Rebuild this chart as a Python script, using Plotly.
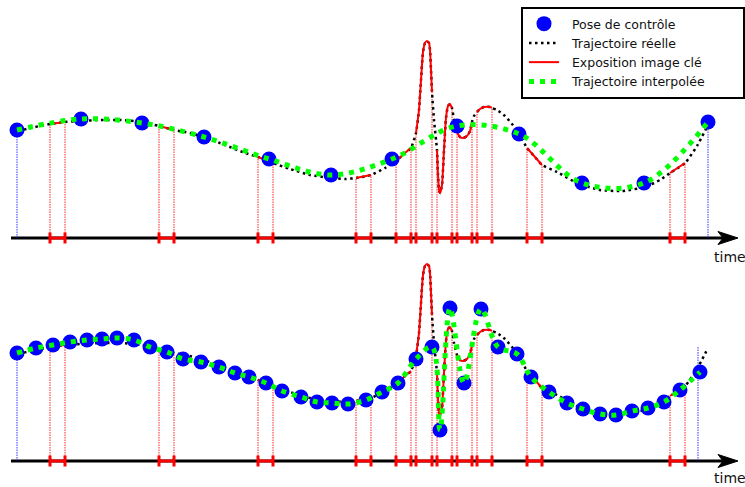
import plotly.graph_objects as go

W, H = 745, 487

# ---------------- data (time in px-like units, position grows downward) ----------------
real_t = [18, 35, 50, 65, 80, 100, 120, 142, 159, 174, 190, 204, 225, 245, 258, 273, 290, 310,
          331, 345, 356, 371, 385, 396, 405, 411, 416, 419, 421, 423, 425, 427, 429, 430, 431,
          432, 434, 437, 438, 439, 440, 442, 444, 446, 448, 450, 452, 454, 457, 460, 463, 467,
          470, 472, 474, 477, 480, 484, 490, 492, 497, 505, 512, 519, 527, 535, 542, 557, 577,
          600, 622, 645, 660, 670, 685, 697, 708]
real_y = [131, 127, 124, 122, 121, 120, 120, 122, 126, 130, 133, 137, 145, 153, 157, 163, 169, 175,
          178, 179, 178, 175, 168, 161, 153, 148, 133, 110, 80, 52, 43, 41, 43, 50, 70,
          92, 120, 150, 175, 190, 193, 185, 150, 118, 106, 104, 108, 120, 132, 137, 138, 136,
          131, 122, 116, 112, 109, 107, 107, 108, 110, 116, 124, 133, 148, 157, 165, 172, 183,
          190, 191, 187, 180, 173, 163, 146, 125]

exposure_start = [50, 159, 258, 356, 396, 416, 437, 457, 477, 527, 670]
exposure_end = [65, 174, 273, 371, 411, 432, 452, 472, 492, 542, 685]

top_pose_t = [17, 81, 142, 204, 269, 331, 392, 457, 519, 582, 644, 708]
top_pose_y = [130, 119, 123, 137, 159, 175, 159, 126, 134, 183, 183, 122]

bot_pose_t = [17, 36, 53, 70, 87, 102, 117, 134, 150, 167, 183, 201, 219, 235, 249, 266, 282,
              301, 317, 332, 348, 366, 382, 398, 416, 432, 440, 450, 464, 481, 498, 517, 531,
              549, 567, 583, 600, 616, 632, 648, 664, 680, 700]
bot_pose_y = [130, 125, 122, 119, 117, 116, 115, 117, 124, 129, 136, 139, 144, 150, 154, 160, 168,
              174, 179, 180, 181, 177, 169, 160, 136, 124, 207, 85, 160, 86, 124, 131, 154,
              169, 180, 186, 191, 192, 188, 185, 179, 167, 149]

top_bounds_t = [17, 708]
top_bounds_y = [130, 122]
bot_bounds_t = [17, 698]
bot_bounds_y = [130, 124]

legend_names = ["Pose de contrôle", "Trajectoire réelle", "Exposition image clé", "Trajectoire interpolée"]

# ---------------- styling constants ----------------
AXIS_Y = 238
TICK_H = 5.5
FONT = "DejaVu Sans"
BLUE = "#0000ff"
RED = "#ff0000"
GREEN = "#00ff00"
PAD = "\u00a0\u00a0"

fig = go.Figure()


def y_at(t):
    return real_y[real_t.index(t)]


def add_panel(yref, pose_t, pose_y, bounds_t, bounds_y, show_legend):
    # red dotted verticals from time axis to the trajectory
    vx, vy = [], []
    for a, b in zip(exposure_start, exposure_end):
        for t in (a, b):
            vx += [t, t, None]
            vy += [AXIS_Y, y_at(t), None]
    fig.add_trace(go.Scatter(x=vx, y=vy, mode="lines", yaxis=yref, showlegend=False,
                             line=dict(color="rgba(255,0,0,0.85)", width=1, dash="1.5px,1px"),
                             hoverinfo="skip"))
    # blue dotted verticals (first / last control pose)
    bx, by = [], []
    for t, yv in zip(bounds_t, bounds_y):
        bx += [t, t, None]
        by += [AXIS_Y, yv, None]
    fig.add_trace(go.Scatter(x=bx, y=by, mode="lines", yaxis=yref, showlegend=False,
                             line=dict(color="rgba(0,0,255,0.8)", width=1, dash="1.5px,1px"),
                             hoverinfo="skip"))
    # real trajectory
    fig.add_trace(go.Scatter(x=real_t, y=real_y, mode="lines", yaxis=yref,
                             name=PAD + legend_names[1], legendrank=2, showlegend=show_legend,
                             line=dict(color="black", width=2.5, dash="2.5px,3.5px",
                                       shape="spline", smoothing=0.5),
                             hoverinfo="skip"))
    # exposure segments on trajectory
    ex, ey = [], []
    for a, b in zip(exposure_start, exposure_end):
        for t, yv in zip(real_t, real_y):
            if a <= t <= b:
                ex.append(t)
                ey.append(yv)
        ex.append(None)
        ey.append(None)
    fig.add_trace(go.Scatter(x=ex, y=ey, mode="lines", yaxis=yref,
                             name=PAD + legend_names[2], legendrank=3, showlegend=show_legend,
                             line=dict(color=RED, width=2, shape="spline", smoothing=0.5),
                             hoverinfo="skip"))
    # exposure intervals on the time axis
    ix, iy = [], []
    for a, b in zip(exposure_start, exposure_end):
        ix += [a, b, None, a, a, None, b, b, None]
        iy += [AXIS_Y, AXIS_Y, None, AXIS_Y - TICK_H, AXIS_Y + TICK_H, None,
               AXIS_Y - TICK_H, AXIS_Y + TICK_H, None]
    fig.add_trace(go.Scatter(x=ix, y=iy, mode="lines", yaxis=yref, showlegend=False,
                             line=dict(color=RED, width=3), hoverinfo="skip"))
    # control poses
    fig.add_trace(go.Scatter(x=pose_t, y=pose_y, mode="markers", yaxis=yref,
                             name=PAD + legend_names[0], legendrank=1, showlegend=show_legend,
                             marker=dict(color=BLUE, size=15, line=dict(width=0)),
                             hoverinfo="skip"))
    # interpolated trajectory
    fig.add_trace(go.Scatter(x=pose_t, y=pose_y, mode="lines", yaxis=yref,
                             name=PAD + legend_names[3], legendrank=4, showlegend=show_legend,
                             line=dict(color=GREEN, width=5, dash="5px,6px", shape="spline"),
                             hoverinfo="skip"))


add_panel("y", top_pose_t, top_pose_y, top_bounds_t, top_bounds_y, True)
add_panel("y2", bot_pose_t, bot_pose_y, bot_bounds_t, bot_bounds_y, False)

shapes = []
for yr in ("y", "y2"):
    shapes.append(dict(type="line", xref="x", yref=yr, x0=11, x1=726, y0=AXIS_Y, y1=AXIS_Y,
                       line=dict(color="black", width=3), layer="below"))
    shapes.append(dict(type="path", xref="x", yref=yr,
                       path=f"M 738,{AXIS_Y} L 718,{AXIS_Y-6.5} L 723,{AXIS_Y} L 718,{AXIS_Y+6.5} Z",
                       fillcolor="black", line=dict(color="black", width=1), layer="below"))
# legend frame
shapes.append(dict(type="rect", xref="paper", yref="paper",
                   x0=522 / W, x1=744 / W, y0=1 - 98 / H, y1=1 - 8 / H,
                   fillcolor="white", line=dict(color="black", width=2), layer="above"))

annotations = [
    dict(text="time", x=712, y=257, xref="x", yref="y", xanchor="left", yanchor="middle",
         showarrow=False, font=dict(family=FONT, size=14, color="#111111")),
    dict(text="time", x=712, y=255, xref="x", yref="y2", xanchor="left", yanchor="middle",
         showarrow=False, font=dict(family=FONT, size=14, color="#111111")),
]

fig.update_layout(
    width=W, height=H,
    margin=dict(l=0, r=0, t=0, b=0, pad=0),
    paper_bgcolor="white", plot_bgcolor="rgba(0,0,0,0)",
    font=dict(family=FONT, size=12, color="#111111"),
    xaxis=dict(range=[0, W], domain=[0, 1], visible=False, fixedrange=True),
    yaxis=dict(range=[270, 0], domain=[1 - 270 / H, 1], visible=False, fixedrange=True),
    yaxis2=dict(range=[264, 0], domain=[0, 264 / H], visible=False, fixedrange=True, anchor="x"),
    shapes=shapes,
    annotations=annotations,
    showlegend=True,
    legend=dict(x=524 / W, y=1 - 9 / H, xanchor="left", yanchor="top",
                bgcolor="rgba(0,0,0,0)", borderwidth=0,
                font=dict(family=FONT, size=12.5, color="#111111"),
                tracegroupgap=0, itemsizing="trace"),
)

fig.write_html("out.html", config={"displayModeBar": False},
               post_script="document.body.style.margin='0px';document.body.style.padding='0px';")
